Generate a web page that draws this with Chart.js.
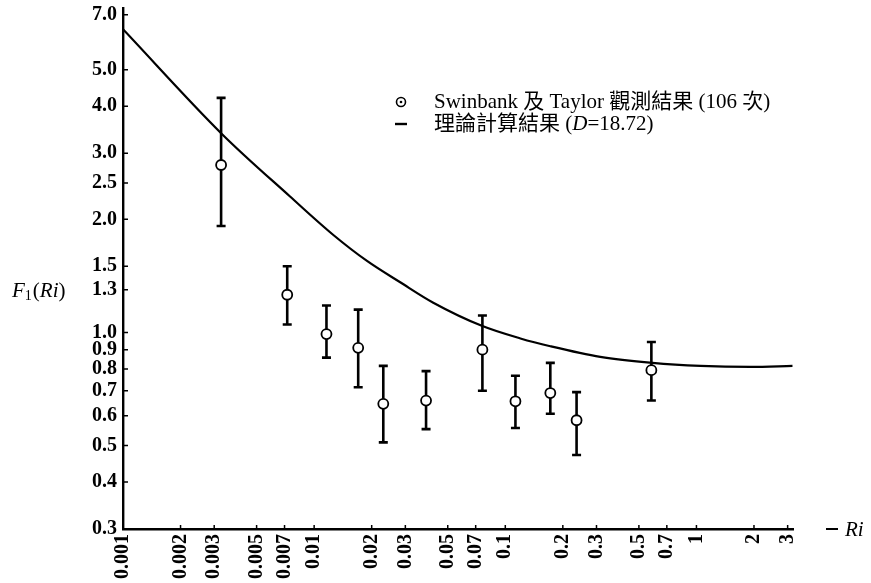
<!DOCTYPE html>
<html lang="zh-Hant">
<head>
<meta charset="utf-8">
<title>F1(Ri)</title>
<script src="https://cdn.jsdelivr.net/npm/chart.js@4.4.1/dist/chart.umd.min.js"></script>
<style>
    html, body { margin: 0; padding: 0; background: #fff; }
    #wrap { width: 871px; height: 583px; }
</style>
</head>
<body>
<div id="wrap"><canvas id="riChart" width="871" height="583"></canvas></div>
<script>
// 観測値 (Swinbank 及 Taylor)
const obsRi = [0.00326, 0.00723, 0.0116, 0.017, 0.023, 0.0385, 0.0759, 0.113, 0.172, 0.236, 0.581];
const obsF1 = [2.79, 1.26, 0.99, 0.91, 0.646, 0.659, 0.90, 0.656, 0.69, 0.584, 0.794];
const obsHigh = [4.21, 1.50, 1.18, 1.15, 0.815, 0.789, 1.11, 0.767, 0.83, 0.694, 0.943];
const obsLow = [1.92, 1.05, 0.857, 0.715, 0.51, 0.553, 0.70, 0.557, 0.608, 0.472, 0.659];

// 理論計算結果 (D=18.72)
const theoryRi = [0.001, 0.0033, 0.00748, 0.01256, 0.0189, 0.0282, 0.042, 0.0759, 0.120, 0.172, 0.314, 0.589, 1.05, 1.92, 3.18];
const theoryF1 = [6.41, 3.37, 2.30, 1.82, 1.55, 1.36, 1.20, 1.04, 0.964, 0.919, 0.861, 0.83, 0.815, 0.81, 0.815];

// 目盛り
const xTicks = [0.001, 0.002, 0.003, 0.005, 0.007, 0.01, 0.02, 0.03, 0.05, 0.07, 0.1, 0.2, 0.3, 0.5, 0.7, 1, 2, 3];
const yTicks = [0.3, 0.4, 0.5, 0.6, 0.7, 0.8, 0.9, 1.0, 1.3, 1.5, 2.0, 2.5, 3.0, 4.0, 5.0, 7.0];

// 凡例
const legendObs = 'Swinbank 及 Taylor 觀測結果 (106 次)';
const legendTheory = ['理論計算結果 (', 'D', '=18.72)'];

const RiChart = {
    // 設定
    config: {
        serif: '"Liberation Serif", "DejaVu Serif", "Noto Sans CJK TC", serif',
        tickSize: 20,
        ink: '#000'
    },

    // 初期化
    init: function () {
        const ctx = document.getElementById('riChart');
        new Chart(ctx, {
            type: 'scatter',
            data: { datasets: this.buildDatasets() },
            options: this.buildOptions(),
            plugins: [this.errorBarPlugin(), this.decorPlugin()]
        });
    },

    // データセットを作成
    buildDatasets: function () {
        const obs = obsRi.map((x, i) => ({ x: x, y: obsF1[i] }));
        const theory = theoryRi.map((x, i) => ({ x: x, y: theoryF1[i] }));
        return [
            {
                label: '理論計算結果',
                data: theory,
                showLine: true,
                borderColor: this.config.ink,
                borderWidth: 2.2,
                pointRadius: 0,
                cubicInterpolationMode: 'monotone'
            },
            {
                label: '觀測結果',
                data: obs,
                pointRadius: 5,
                pointBorderWidth: 1.8,
                pointBorderColor: this.config.ink,
                pointBackgroundColor: '#fff'
            },
            {
                // 丸の中の点
                label: 'dot',
                data: obs,
                pointRadius: 1.4,
                pointBorderWidth: 0,
                pointBackgroundColor: this.config.ink
            }
        ];
    },

    // 軸などのオプション
    buildOptions: function () {
        const c = this.config;
        const tickFont = { family: c.serif, size: c.tickSize, weight: 'bold' };
        return {
            responsive: false,
            animation: false,
            devicePixelRatio: 1,
            layout: { padding: { top: 8, right: 78, bottom: 0, left: 0 } },
            plugins: {
                legend: { display: false },
                tooltip: { enabled: false }
            },
            scales: {
                x: {
                    type: 'logarithmic',
                    position: 'bottom',
                    min: 0.001,
                    max: 3.2,
                    grid: { display: false, drawTicks: false },
                    border: { display: true, color: c.ink, width: 2.4 },
                    afterBuildTicks: function (scale) {
                        scale.ticks = xTicks.map(v => ({ value: v }));
                    },
                    afterFit: function (scale) {
                        scale.height = 54;
                        scale.paddingLeft = 0;
                        scale.paddingRight = 0;
                    },
                    ticks: {
                        autoSkip: false,
                        minRotation: 90,
                        maxRotation: 90,
                        padding: 5,
                        color: c.ink,
                        font: tickFont,
                        callback: v => String(v)
                    }
                },
                y: {
                    type: 'logarithmic',
                    min: 0.3,
                    max: 7.3,
                    grid: { display: false, drawTicks: false },
                    border: { display: true, color: c.ink, width: 2.4 },
                    afterBuildTicks: function (scale) {
                        scale.ticks = yTicks.map(v => ({ value: v }));
                    },
                    afterFit: function (scale) {
                        scale.width = 123;
                        scale.paddingTop = 0;
                        scale.paddingBottom = 0;
                    },
                    ticks: {
                        autoSkip: false,
                        padding: 6,
                        color: c.ink,
                        font: tickFont,
                        callback: v => Number(v).toFixed(1)
                    }
                }
            }
        };
    },

    // 誤差棒
    errorBarPlugin: function () {
        const ink = this.config.ink;
        return {
            id: 'errorBars',
            beforeDatasetsDraw: function (chart) {
                const x = chart.scales.x;
                const y = chart.scales.y;
                const g = chart.ctx;
                g.save();
                g.strokeStyle = ink;
                g.lineWidth = 2.6;
                obsRi.forEach((ri, i) => {
                    const px = x.getPixelForValue(ri);
                    const top = y.getPixelForValue(obsHigh[i]);
                    const bottom = y.getPixelForValue(obsLow[i]);
                    g.beginPath();
                    g.moveTo(px, top);
                    g.lineTo(px, bottom);
                    g.moveTo(px - 4.5, top);
                    g.lineTo(px + 4.5, top);
                    g.moveTo(px - 4.5, bottom);
                    g.lineTo(px + 4.5, bottom);
                    g.stroke();
                });
                g.restore();
            }
        };
    },

    // 内向きの目盛り線、軸名、凡例
    decorPlugin: function () {
        const c = this.config;
        return {
            id: 'decor',
            afterDraw: function (chart) {
                const g = chart.ctx;
                const area = chart.chartArea;
                const x = chart.scales.x;
                const y = chart.scales.y;
                g.save();
                g.strokeStyle = c.ink;
                g.fillStyle = c.ink;
                g.lineWidth = 1.5;

                // 目盛り線
                g.beginPath();
                yTicks.forEach(v => {
                    const py = y.getPixelForValue(v);
                    g.moveTo(area.left, py);
                    g.lineTo(area.left + 5, py);
                });
                xTicks.forEach(v => {
                    const px = x.getPixelForValue(v);
                    g.moveTo(px, area.bottom);
                    g.lineTo(px, area.bottom - 4);
                });
                g.stroke();

                // 縦軸名 F1(Ri)
                g.textBaseline = 'alphabetic';
                let tx = 12;
                const ty = 297;
                g.font = 'italic 21px ' + c.serif;
                g.fillText('F', tx, ty);
                tx += g.measureText('F').width;
                g.font = '14px ' + c.serif;
                g.fillText('1', tx, ty + 3);
                tx += g.measureText('1').width + 1;
                g.font = '21px ' + c.serif;
                g.fillText('(', tx, ty);
                tx += g.measureText('(').width;
                g.font = 'italic 21px ' + c.serif;
                g.fillText('Ri', tx, ty);
                tx += g.measureText('Ri').width;
                g.font = '21px ' + c.serif;
                g.fillText(')', tx, ty);

                // 横軸名 — Ri
                g.lineWidth = 2;
                g.beginPath();
                g.moveTo(826, area.bottom);
                g.lineTo(838, area.bottom);
                g.stroke();
                g.font = 'italic 21px ' + c.serif;
                g.textBaseline = 'middle';
                g.fillText('Ri', 845, area.bottom + 1);

                // 凡例: 観測値
                const lx = 401;
                const row1 = 102;
                const row2 = 124;
                g.lineWidth = 1.6;
                g.beginPath();
                g.arc(lx, row1, 4.5, 0, Math.PI * 2);
                g.stroke();
                g.beginPath();
                g.arc(lx, row1, 1.3, 0, Math.PI * 2);
                g.fill();
                g.font = '21px ' + c.serif;
                g.fillText(legendObs, 434, row1);

                // 凡例: 理論曲線
                g.lineWidth = 2.4;
                g.beginPath();
                g.moveTo(395, row2);
                g.lineTo(407, row2);
                g.stroke();
                let lt = 434;
                g.font = '21px ' + c.serif;
                g.fillText(legendTheory[0], lt, row2);
                lt += g.measureText(legendTheory[0]).width;
                g.font = 'italic 21px ' + c.serif;
                g.fillText(legendTheory[1], lt, row2);
                lt += g.measureText(legendTheory[1]).width;
                g.font = '21px ' + c.serif;
                g.fillText(legendTheory[2], lt, row2);
                g.restore();
            }
        };
    }
};

// DOMが読み込まれたら初期化
document.addEventListener('DOMContentLoaded', function () {
    RiChart.init();
});
</script>
</body>
</html>
